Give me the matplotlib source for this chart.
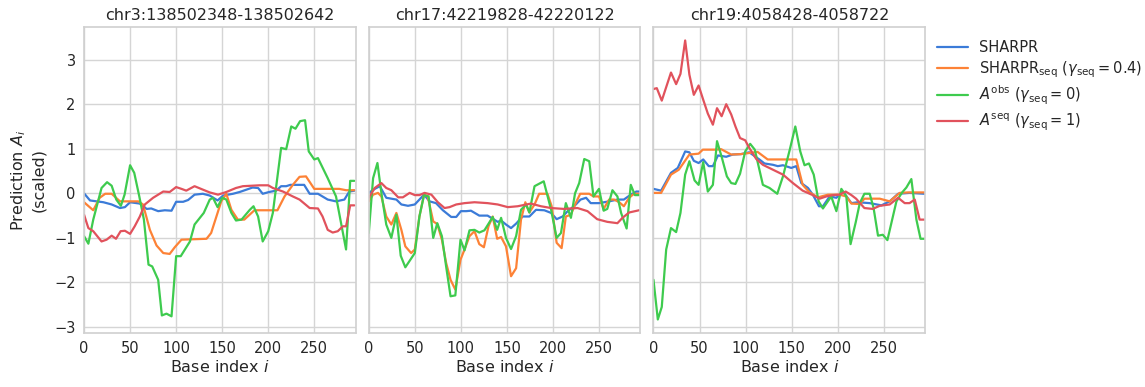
import numpy as np
import matplotlib
matplotlib.use("Agg")
import matplotlib.pyplot as plt
import seaborn as sns

sns.set_style("whitegrid")
plt.rcParams["font.family"] = ["DejaVu Sans"]
plt.rcParams["mathtext.fontset"] = "dejavusans"

titles = ["chr3:138502348-138502642", "chr17:42219828-42220122", "chr19:4058428-4058722"]
x_ticks = [0, 50, 100, 150, 200, 250]
y_ticks = [-3, -2, -1, 0, 1, 2, 3]

labels = ["SHARPR",
          r"SHARPR$_\mathrm{seq}$ ($\gamma_\mathrm{seq}=0.4$)",
          r"$A^\mathrm{obs}$ ($\gamma_\mathrm{seq}=0$)",
          r"$A^\mathrm{seq}$ ($\gamma_\mathrm{seq}=1$)"]
colors = ["#3b7bd8", "#fd8236", "#3ecb4e", "#e1525c"]

# ---- chr3 region ----
c3_sharpr_x = [0, 6.5, 13.7, 21, 30, 39, 44.4, 50, 60.6, 68, 73, 80.5, 87.7, 95, 100, 107.6, 113, 120,
               129, 136.5, 145, 151, 161.7, 169, 176, 183, 189, 194, 201, 208.7, 214, 219.5, 224, 239,
               245, 254, 264.6, 273.6, 282.7, 288, 293.5]
c3_sharpr_y = [0.0, -0.16, -0.18, -0.2, -0.25, -0.33, -0.31, -0.2, -0.23, -0.35, -0.34, -0.4, -0.38, -0.39,
               -0.19, -0.19, -0.15, -0.03, -0.01, -0.05, -0.16, -0.05, -0.01, 0.03, 0.08, 0.13, 0.12, -0.01,
               0.03, 0.06, 0.16, 0.16, 0.19, 0.19, -0.01, -0.01, -0.14, -0.18, -0.14, 0.04, 0.06]
c3_seq04_x = [0, 10, 17, 23, 30, 39, 59, 64, 71.5, 78.7, 86, 93, 98.5, 105.8, 133, 138, 149, 154.5, 160,
              167, 174, 185, 210, 217.7, 226.7, 234, 241, 250, 277, 284.5, 293.5]
c3_seq04_y = [-0.2, -0.38, -0.1, -0.01, -0.01, -0.18, -0.18, -0.25, -0.82, -1.17, -1.34, -1.36, -1.21,
              -1.04, -1.02, -0.89, -0.18, -0.01, -0.37, -0.59, -0.59, -0.38, -0.38, -0.07, 0.19, 0.37,
              0.38, 0.1, 0.1, 0.07, 0.07]
c3_obs_x = [0, 4.7, 10, 19, 25, 30, 35, 40, 44, 50, 54.5, 60, 65, 70, 74, 80.5, 84.5, 89.5, 95, 100, 105,
            115, 120, 130, 136.5, 140, 145, 150, 154.5, 160, 165, 171, 180, 184, 189, 194, 200, 205, 214,
            219.5, 225, 229.6, 234.6, 240, 244, 250, 254, 264.6, 273.6, 284.5, 289, 293.5]
c3_obs_y = [-0.96, -1.13, -0.59, 0.12, 0.25, 0.17, -0.14, -0.28, -0.03, 0.63, 0.46, -0.07, -0.59, -1.6,
            -1.64, -1.94, -2.74, -2.7, -2.76, -1.41, -1.41, -1.08, -0.7, -0.44, -0.14, -0.1, -0.31, -0.1,
            -0.14, -0.44, -0.61, -0.59, -0.37, -0.29, -0.52, -1.08, -0.85, -0.44, 1.02, 0.99, 1.5, 1.45,
            1.62, 1.64, 0.94, 0.76, 0.79, 0.34, -0.07, -1.26, 0.28, 0.28]
c3_seq_x = [0, 4.7, 10, 19, 24.5, 30, 34.7, 39.7, 44.4, 50, 55, 60.6, 66, 75, 86, 93, 100, 105.8, 111,
            120, 127, 136.5, 145.5, 154.5, 165, 172.5, 190.6, 200, 205, 216, 226.7, 234, 245, 254, 259,
            264.6, 270, 275.5, 281, 284.5, 289, 293.5]
c3_seq_y = [-0.48, -0.78, -0.85, -1.08, -1.04, -0.95, -1.02, -0.85, -0.84, -0.91, -0.74, -0.52, -0.25,
            -0.1, 0.04, 0.03, 0.14, 0.1, 0.06, 0.16, 0.1, 0.02, -0.03, 0.03, 0.12, 0.16, 0.18, 0.18, 0.12,
            0.04, -0.07, -0.14, -0.33, -0.34, -0.52, -0.82, -0.88, -0.85, -0.74, -0.74, -0.27, -0.27]

# ---- chr17 region ----
c17_sharpr_x = [0, 6.5, 12, 19, 30, 35.4, 42.6, 50, 55, 60, 66, 73, 80.5, 89.5, 95, 100, 105.8, 111, 120,
                129, 134.6, 140, 143.7, 149, 154.5, 160, 167, 174.4, 181.6, 190.6, 198, 204, 210.5, 216,
                223, 230, 236, 241, 250, 261, 270, 277, 284.5, 290.5, 293.5]
c17_sharpr_y = [0.01, 0.1, 0.16, -0.1, -0.14, -0.25, -0.28, -0.25, -0.14, -0.03, -0.18, -0.22, -0.38,
                -0.53, -0.53, -0.4, -0.4, -0.39, -0.5, -0.5, -0.57, -0.64, -0.61, -0.7, -0.78, -0.68,
                -0.52, -0.52, -0.37, -0.38, -0.44, -0.58, -0.52, -0.4, -0.29, -0.14, -0.1, -0.22, -0.22,
                -0.18, -0.14, -0.14, -0.03, 0.04, 0.04]
c17_seq04_x = [0, 4.7, 10, 13.7, 19, 24.5, 30, 35.4, 39.7, 46, 50, 55, 60, 64, 70, 74.4, 79.4, 84, 88.8,
               94, 99.6, 104, 109.4, 114.8, 120, 125, 130, 134.6, 139.4, 143.7, 149, 154.5, 160, 165.3,
               170, 174.4, 180, 185, 194, 198.6, 204, 209.4, 214, 219.5, 224, 229.6, 239.4, 244, 250, 255,
               261, 266.4, 272, 277, 282.7, 288, 293.5]
c17_seq04_y = [-0.18, -0.03, 0.01, -0.07, -0.52, -0.7, -0.44, -0.82, -1.19, -1.34, -1.26, -0.52, -0.03,
               -0.07, -0.63, -0.69, -1.04, -1.56, -1.94, -2.16, -1.49, -1.26, -0.96, -0.85, -1.14,
               -1.21, -0.74, -0.52, -1.02, -0.98, -1.19, -1.86, -1.68, -0.59, -0.2, -0.43, -0.25, -0.01,
               -0.01, -0.29, -1.11, -1.23, -0.52, -0.48, -0.25, -0.01, -0.01, -0.07, -0.07, -0.35,
               -0.14, -0.14, -0.2, -0.29, -0.1, -0.01, -0.01]
c17_obs_x = [0, 4.7, 9.4, 13.7, 19, 24.5, 30, 34.7, 39.7, 50, 55, 60, 65, 70, 74.4, 79.4, 84, 88.8, 94,
             99.6, 104, 109.4, 114.8, 120, 125.6, 134.6, 139.4, 143.7, 149, 154.5, 160, 165.3, 170.8,
             174.4, 180, 190, 198, 204, 208.7, 214, 219.5, 224, 228.5, 234, 239.4, 244, 250, 255, 259,
             264.6, 270, 274, 280, 284.5, 289, 293.5]
c17_obs_y = [-0.89, 0.34, 0.68, 0.01, -0.7, -1.0, -0.48, -1.4, -1.66, -1.34, -0.52, -0.04, -0.07, -1.0,
             -0.67, -0.96, -1.64, -2.31, -2.29, -1.04, -1.28, -0.83, -0.82, -0.88, -0.83, -0.53, -0.82,
             -0.55, -1.0, -1.25, -0.96, -0.37, -0.25, -0.43, 0.16, 0.27, -0.37, -1.0, -0.89, -0.22,
             -0.55, 0.0, 0.23, 0.77, 0.72, -0.07, 0.1, -0.39, -0.35, 0.07, -0.07, -0.44, -0.79, 0.19,
             -0.04, -0.04]
c17_seq_x = [0, 6.5, 13.7, 19, 24.5, 32, 37, 44.4, 50, 55, 60.6, 68, 75, 82.3, 87.7, 95, 104, 114.8, 129,
             140, 151, 161.7, 176, 187, 198, 212, 226.7, 237.5, 248, 259, 270, 275.5, 282.7, 293.5]
c17_seq_y = [-0.1, 0.12, 0.23, 0.12, 0.07, -0.09, -0.09, 0.01, -0.04, -0.04, 0.01, -0.03, -0.2, -0.33,
             -0.31, -0.25, -0.22, -0.2, -0.22, -0.25, -0.31, -0.29, -0.23, -0.29, -0.33, -0.35, -0.33,
             -0.4, -0.58, -0.64, -0.67, -0.55, -0.43, -0.38]

# ---- chr19 region ----
c19_sharpr_x = [0, 8.3, 19, 26.4, 34.4, 39, 43.8, 49, 54, 60, 64.5, 70, 79, 86, 95, 104, 115, 120.5,
                129.7, 135, 140.6, 149.6, 155, 160.5, 167.8, 173, 179.7, 184, 191.3, 198.6, 205.8, 214.9,
                222, 234.8, 247.5, 256.5, 265.6, 278, 294.5]
c19_sharpr_y = [0.1, 0.06, 0.46, 0.57, 0.94, 0.92, 0.73, 0.68, 0.76, 0.61, 0.61, 0.85, 0.82, 0.87, 0.88,
                0.92, 0.76, 0.67, 0.64, 0.61, 0.63, 0.57, 0.61, 0.23, 0.12, -0.03, -0.29, -0.29, -0.07,
                -0.1, 0.04, -0.22, -0.2, -0.22, -0.27, -0.18, -0.01, 0.01, -0.01]
c19_seq04_x = [0, 8.3, 19, 27.5, 39, 49, 53.6, 66.3, 73.5, 84.4, 95, 113, 124, 155, 162, 169.5, 178.6,
               189.5, 202, 209.4, 214.9, 224, 229, 245.7, 256.5, 267.4, 276.4, 294.5]
c19_seq04_y = [0.01, 0.01, 0.42, 0.53, 0.87, 0.89, 0.98, 0.98, 0.99, 0.87, 0.88, 0.93, 0.76, 0.76, 0.19,
               0.02, -0.09, -0.03, -0.03, -0.07, -0.23, -0.24, -0.12, -0.12, -0.18, 0.01, 0.02, 0.02]
c19_obs_x = [0, 4.7, 9, 13.8, 19, 24.6, 29.3, 34.4, 39, 44.6, 49, 54, 59, 64.5, 69, 74, 79.7, 84.4, 89,
             94, 99.6, 105, 110, 118.8, 126, 134.4, 140.6, 148, 154, 159.4, 164, 168.8, 174, 179.3, 184,
             193, 198.6, 204, 209.4, 214, 219.6, 224, 229, 234.8, 239, 243.8, 249, 254, 263.8, 270,
             274.6, 280, 285.5, 290, 294.5]
c19_obs_y = [-1.94, -2.83, -2.55, -1.26, -0.78, -0.87, -0.44, 0.42, 0.72, 0.29, 0.19, 0.7, 0.04, 0.19,
             1.17, 0.82, 0.38, 0.23, 0.21, 0.44, 0.94, 1.11, 0.98, 0.19, 0.12, -0.01, 0.38, 0.98, 1.5,
             0.94, 0.63, 0.67, 0.42, -0.18, -0.34, -0.07, -0.4, 0.1, -0.07, -1.14, -0.65, -0.22, -0.01,
             -0.01, -0.33, -0.95, -0.93, -1.05, -0.18, 0.02, 0.13, 0.32, -0.59, -1.02, -1.02]
c19_seq_x = [0, 3.6, 9, 19, 24.6, 29.3, 34.4, 39, 43.8, 49, 54, 59, 64.5, 69, 74, 79, 84.4, 89, 94, 99.6,
             104, 111.6, 118.8, 129.7, 140.6, 151.4, 162, 173, 180.4, 187.7, 195, 202, 208.7, 214.9,
             220, 229, 238, 245.7, 256.5, 265.6, 272.8, 278, 283.7, 289, 294.5]
c19_seq_y = [2.34, 2.36, 2.08, 2.71, 2.45, 2.68, 3.43, 2.66, 2.21, 2.42, 2.1, 1.79, 1.54, 1.91, 1.73,
             2.0, 1.77, 1.5, 1.24, 1.19, 1.02, 0.77, 0.64, 0.53, 0.42, 0.23, 0.06, -0.04, -0.12, -0.07,
             -0.04, -0.03, 0.04, -0.04, -0.12, -0.33, -0.35, -0.28, -0.25, -0.1, -0.22, -0.22, -0.14,
             -0.59, -0.59]

regions = [
    [(c3_sharpr_x, c3_sharpr_y), (c3_seq04_x, c3_seq04_y), (c3_obs_x, c3_obs_y), (c3_seq_x, c3_seq_y)],
    [(c17_sharpr_x, c17_sharpr_y), (c17_seq04_x, c17_seq04_y), (c17_obs_x, c17_obs_y), (c17_seq_x, c17_seq_y)],
    [(c19_sharpr_x, c19_sharpr_y), (c19_seq04_x, c19_seq04_y), (c19_obs_x, c19_obs_y), (c19_seq_x, c19_seq_y)],
]

fig, axes = plt.subplots(1, 3, figsize=(11.45, 3.87), dpi=100, sharey=True)
fig.subplots_adjust(left=0.0734, right=0.808, top=0.93, bottom=0.14, wspace=0.048)

text_col = "#262626"
for ax, title, series in zip(axes, titles, regions):
    for (xs, ys), col, lab in zip(series, colors, labels):
        ax.plot(xs, ys, color=col, lw=1.6, label=lab)
    ax.set_title(title, fontsize=11.5, color=text_col, pad=5)
    ax.set_xlim(0, 295)
    ax.set_ylim(-3.13, 3.73)
    ax.set_xticks(x_ticks)
    ax.set_yticks(y_ticks)
    ax.set_xlabel(r"Base index $i$", fontsize=11.5, color=text_col, labelpad=2)
    ax.tick_params(labelsize=10.5, colors=text_col, length=0, pad=6)
    ax.grid(True, color="#d5d5d5", lw=1.0)
    for sp in ax.spines.values():
        sp.set_color("#d0d0d0")
        sp.set_linewidth(1.2)

axes[0].set_ylabel("Prediction $A_i$\n(scaled)", fontsize=11.5, color=text_col, labelpad=6)

handles, labs = axes[0].get_legend_handles_labels()
fig.legend(handles, labs, loc="upper left", bbox_to_anchor=(0.807, 0.93), frameon=False,
           fontsize=10.5, handlelength=2.1, handletextpad=0.75, labelspacing=0.28,
           labelcolor=text_col)

fig.savefig("out.png", dpi=100)
